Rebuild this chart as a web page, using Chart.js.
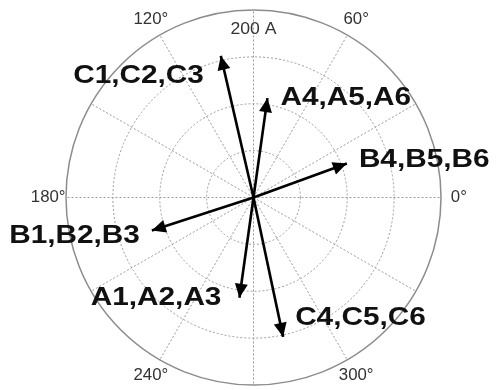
<!DOCTYPE html>
<html lang="en">
<head>
    <meta charset="UTF-8">
    <title>Phasor Diagram</title>
    <script src="https://cdn.jsdelivr.net/npm/chart.js"></script>
    <style>
        body {
            margin: 0;
            background: #ffffff;
        }
        canvas {
            display: block;
        }
    </style>
</head>
<body>
    <canvas id="phasorChart" width="497" height="390"></canvas>

    <script>
        // Phasor data (magnitude in A, angle in degrees)
        const phasorNames = ['A1,A2,A3', 'A4,A5,A6', 'B1,B2,B3', 'B4,B5,B6', 'C1,C2,C3', 'C4,C5,C6'];
        const magnitudes = [108, 107, 114, 106, 155, 152];
        const anglesDeg = [262, 82, 198, 20, 103, 282];

        // Polar grid
        const ringValues = [50, 100, 150];
        const maxRadius = 200;
        const spokeAngles = [0, 30, 60, 90, 120, 150, 180, 210, 240, 270, 300, 330];
        const angleTickValues = [0, 60, 120, 180, 240, 300];
        const angleTickLabels = ['0°', '60°', '120°', '180°', '240°', '300°'];
        const radialTickLabel = '200 A';

        // where each phasor name sits relative to its arrow tip
        const labelPlacement = [
            { dx: -18, dy: 0, align: 'right' },
            { dx: 13, dy: 0, align: 'left' },
            { dx: -12, dy: 6, align: 'right' },
            { dx: 12, dy: -3, align: 'left' },
            { dx: -17, dy: 20, align: 'right' },
            { dx: 12, dy: -19, align: 'left' }
        ];

        const FONT = '"Liberation Sans", Arial, sans-serif';

        function drawText(ctx, text, x, y, font, color, align, stretch) {
            ctx.save();
            ctx.font = font;
            ctx.fillStyle = color;
            ctx.textBaseline = 'middle';
            const w = ctx.measureText(text).width * stretch;
            let left = x;
            if (align === 'center') left = x - w / 2;
            if (align === 'right') left = x - w;
            ctx.translate(left, y);
            ctx.scale(stretch, 1);
            ctx.textAlign = 'left';
            ctx.fillText(text, 0, 0);
            ctx.restore();
        }

        const polarGrid = {
            id: 'polarGrid',
            beforeDatasetsDraw(chart) {
                const ctx = chart.ctx;
                const xs = chart.scales.x, ys = chart.scales.y;
                const cx = xs.getPixelForValue(0), cy = ys.getPixelForValue(0);
                const rad = v => xs.getPixelForValue(v) - cx;

                ctx.save();
                ctx.strokeStyle = '#9a9a9a';
                ctx.lineWidth = 1;
                ctx.setLineDash([2, 2]);
                ringValues.forEach(v => {
                    ctx.beginPath();
                    ctx.arc(cx, cy, rad(v), 0, Math.PI * 2);
                    ctx.stroke();
                });
                spokeAngles.forEach(a => {
                    const t = a * Math.PI / 180;
                    ctx.beginPath();
                    ctx.moveTo(cx, cy);
                    ctx.lineTo(xs.getPixelForValue(maxRadius * Math.cos(t)), ys.getPixelForValue(maxRadius * Math.sin(t)));
                    ctx.stroke();
                });
                ctx.setLineDash([]);
                ctx.strokeStyle = '#8c8c8c';
                ctx.lineWidth = 1.5;
                ctx.beginPath();
                ctx.arc(cx, cy, rad(maxRadius), 0, Math.PI * 2);
                ctx.stroke();
                ctx.restore();
            },
            afterDraw(chart) {
                const ctx = chart.ctx;
                const xs = chart.scales.x, ys = chart.scales.y;
                angleTickValues.forEach((a, i) => {
                    const t = a * Math.PI / 180;
                    const r = maxRadius * 1.095;
                    drawText(ctx, angleTickLabels[i], xs.getPixelForValue(r * Math.cos(t)), ys.getPixelForValue(r * Math.sin(t)),
                        '16px ' + FONT, '#333333', 'center', 1.05);
                });
                drawText(ctx, radialTickLabel, xs.getPixelForValue(0), ys.getPixelForValue(maxRadius * 0.895),
                    '16px ' + FONT, '#333333', 'center', 1.1);
            }
        };

        const arrowHeads = {
            id: 'arrowHeads',
            afterDatasetsDraw(chart) {
                const ctx = chart.ctx;
                chart.data.datasets.forEach((ds, i) => {
                    const pts = chart.getDatasetMeta(i).data;
                    const p0 = pts[0], p1 = pts[1];
                    const a = Math.atan2(p1.y - p0.y, p1.x - p0.x);
                    const len = 14, half = 6.5;
                    const bx = p1.x - len * Math.cos(a), by = p1.y - len * Math.sin(a);
                    ctx.save();
                    ctx.fillStyle = '#000000';
                    ctx.beginPath();
                    ctx.moveTo(p1.x, p1.y);
                    ctx.lineTo(bx + half * Math.sin(a), by - half * Math.cos(a));
                    ctx.lineTo(bx - half * Math.sin(a), by + half * Math.cos(a));
                    ctx.closePath();
                    ctx.fill();
                    ctx.restore();

                    const lp = labelPlacement[i];
                    drawText(ctx, ds.label, p1.x + lp.dx, p1.y + lp.dy, 'bold 25px ' + FONT, '#111111', lp.align, 1.19);
                });
            }
        };

        const datasets = phasorNames.map((name, i) => {
            const t = anglesDeg[i] * Math.PI / 180;
            return {
                label: name,
                data: [{ x: 0, y: 0 }, { x: magnitudes[i] * Math.cos(t), y: magnitudes[i] * Math.sin(t) }],
                showLine: true,
                borderColor: '#000000',
                borderWidth: 2.6,
                borderCapStyle: 'butt',
                pointRadius: 0,
                fill: false
            };
        });

        new Chart(document.getElementById('phasorChart').getContext('2d'), {
            type: 'scatter',
            data: { datasets: datasets },
            options: {
                responsive: false,
                animation: false,
                layout: { padding: { left: 66, right: 56, top: 10, bottom: 5 } },
                scales: {
                    x: { type: 'linear', min: -maxRadius, max: maxRadius, display: false },
                    y: { type: 'linear', min: -maxRadius, max: maxRadius, display: false }
                },
                plugins: {
                    legend: { display: false },
                    tooltip: { enabled: false }
                }
            },
            plugins: [polarGrid, arrowHeads]
        });
    </script>
</body>
</html>
